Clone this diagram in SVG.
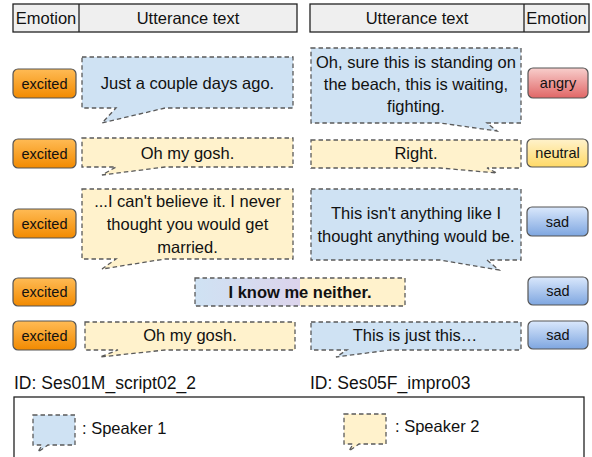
<svg xmlns="http://www.w3.org/2000/svg" width="592" height="457" viewBox="0 0 592 457">
<defs>
<linearGradient id="gOrange" x1="0" y1="0" x2="0" y2="1"><stop offset="0" stop-color="#ffbb55"/><stop offset="1" stop-color="#f28a00"/></linearGradient>
<linearGradient id="gRed" x1="0" y1="0" x2="0" y2="1"><stop offset="0" stop-color="#f8cecc"/><stop offset="1" stop-color="#e06666"/></linearGradient>
<linearGradient id="gYellow" x1="0" y1="0" x2="0" y2="1"><stop offset="0" stop-color="#fff2cc"/><stop offset="1" stop-color="#ffd966"/></linearGradient>
<linearGradient id="gBlue" x1="0" y1="0" x2="0" y2="1"><stop offset="0" stop-color="#dae8fc"/><stop offset="1" stop-color="#7ea6e0"/></linearGradient>
<linearGradient id="gMix" x1="0" y1="0" x2="1" y2="0"><stop offset="0" stop-color="#cfe2f3"/><stop offset="0.5" stop-color="#dcd4ec"/><stop offset="0.5" stop-color="#fff2cc"/><stop offset="1" stop-color="#fff2cc"/></linearGradient>
</defs>
<style>
text{font-family:"Liberation Sans",Arial,sans-serif;fill:#111}
.hdr{fill:#efefef;stroke:#222;stroke-width:1.3}
.ht{font-size:16.5px;text-anchor:middle}
.b{stroke:#5a5a5a;stroke-width:1.3;stroke-dasharray:4.5 3}
.s1{fill:#cfe2f3}
.s2{fill:#fff2cc}
.ut{font-size:16.5px;text-anchor:middle}
.badge{stroke:#555;stroke-width:1.2}
.bt{font-size:14.5px;text-anchor:middle}
.id{font-size:17.5px}
.lg{font-size:16.5px}
</style>
<rect width="592" height="457" fill="#fff"/>
<g id="header-left">
<rect class="hdr" x="13" y="4" width="284" height="28"/>
<line x1="79" y1="4" x2="79" y2="32" stroke="#222" stroke-width="1.3"/>
<text class="ht" x="46" y="24">Emotion</text>
<text class="ht" x="188" y="24">Utterance text</text>
</g>
<g id="header-right">
<rect class="hdr" x="310" y="4" width="279" height="28"/>
<line x1="524" y1="4" x2="524" y2="32" stroke="#222" stroke-width="1.3"/>
<text class="ht" x="417" y="24">Utterance text</text>
<text class="ht" x="556.5" y="24">Emotion</text>
</g>
<g id="connectors"></g>
<g id="emo-l1"><rect class="badge" x="13" y="69" width="63" height="29" rx="5" fill="url(#gOrange)"/><text class="bt" x="44.5" y="88.5">excited</text></g>
<g id="emo-l2"><rect class="badge" x="13" y="139" width="63" height="29" rx="5" fill="url(#gOrange)"/><text class="bt" x="44.5" y="158.5">excited</text></g>
<g id="emo-l3"><rect class="badge" x="13" y="209" width="63" height="29" rx="5" fill="url(#gOrange)"/><text class="bt" x="44.5" y="228.5">excited</text></g>
<g id="emo-l4"><rect class="badge" x="13" y="278" width="63" height="28" rx="5" fill="url(#gOrange)"/><text class="bt" x="44.5" y="297">excited</text></g>
<g id="emo-l5"><rect class="badge" x="13" y="321" width="63" height="29" rx="5" fill="url(#gOrange)"/><text class="bt" x="44.5" y="340.5">excited</text></g>
<g id="emo-r1"><rect class="badge" x="528" y="68" width="60" height="30" rx="5" fill="url(#gRed)"/><text class="bt" x="558" y="88">angry</text></g>
<g id="emo-r2"><rect class="badge" x="527" y="139" width="61" height="28" rx="5" fill="url(#gYellow)"/><text class="bt" x="557.5" y="158">neutral</text></g>
<g id="emo-r3"><rect class="badge" x="527" y="207" width="61" height="29" rx="5" fill="url(#gBlue)"/><text class="bt" x="557.5" y="226.5">sad</text></g>
<g id="emo-r4"><rect class="badge" x="528" y="277" width="60" height="28" rx="5" fill="url(#gBlue)"/><text class="bt" x="558" y="296">sad</text></g>
<g id="emo-r5"><rect class="badge" x="528" y="321" width="60" height="28" rx="5" fill="url(#gBlue)"/><text class="bt" x="558" y="340">sad</text></g>
<g id="utt-l1"><path class="b s1" d="M82,57 H293 V108 H165 L102,123 L116,108 H82 Z"/><text class="ut" x="187.5" y="89">Just a couple days ago.</text></g>
<g id="utt-l2"><path class="b s2" d="M82,138 H293 V167 H165 L102,175 L116,167 H82 Z"/><text class="ut" x="187.5" y="159">Oh my gosh.</text></g>
<g id="utt-l3"><path class="b s2" d="M82,189 H293 V259 H165 L102,269 L116,259 H82 Z"/><text class="ut" x="187.5" y="207">...I can't believe it. I never</text><text class="ut" x="187.5" y="230">thought you would get</text><text class="ut" x="187.5" y="253">married.</text></g>
<g id="utt-mid"><rect class="b" x="195" y="278" width="210" height="28" fill="url(#gMix)"/><text class="ut" x="300" y="298" font-weight="bold">I know me neither.</text></g>
<g id="utt-l5"><path class="b s2" d="M85,322 H295 V350 H165 L100,357 L118,350 H85 Z"/><text class="ut" x="190" y="341">Oh my gosh.</text></g>
<g id="utt-r1"><path class="b s1" d="M311,48 H521 V123 H487 L497,131 L440,123 H311 Z"/><text class="ut" x="416" y="67.5">Oh, sure this is standing on</text><text class="ut" x="416" y="89.5">the beach, this is waiting,</text><text class="ut" x="416" y="112">fighting.</text></g>
<g id="utt-r2"><path class="b s2" d="M311,140 H521 V168 H487 L497,173 L440,168 H311 Z"/><text class="ut" x="416" y="159">Right.</text></g>
<g id="utt-r3"><path class="b s1" d="M311,189 H521 V260 H487 L499,270 L440,260 H311 Z"/><text class="ut" x="416" y="219">This isn't anything like I</text><text class="ut" x="416" y="242">thought anything would be.</text></g>
<g id="utt-r5"><path class="b s1" d="M311,322 H521 V350 H390 L336,357 L347,350 H311 Z"/><text class="ut" x="415" y="341">This is just this…</text></g>
<g id="ids"><text class="id" x="14" y="389">ID: Ses01M_script02_2</text><text class="id" x="310" y="389">ID: Ses05F_impro03</text></g>
<g id="legend">
<rect x="14" y="397" width="570" height="64" fill="#fff" stroke="#222" stroke-width="1.3"/>
<path class="b s1" d="M33,415 H75 V445 H48 L38,452 L42,445 H33 Z"/>
<text class="lg" x="82" y="434">: Speaker 1</text>
<path class="b s2" d="M344,414 H386 V444 H359 L349,451 L353,444 H344 Z"/>
<text class="lg" x="395" y="432">: Speaker 2</text>
</g>
</svg>
